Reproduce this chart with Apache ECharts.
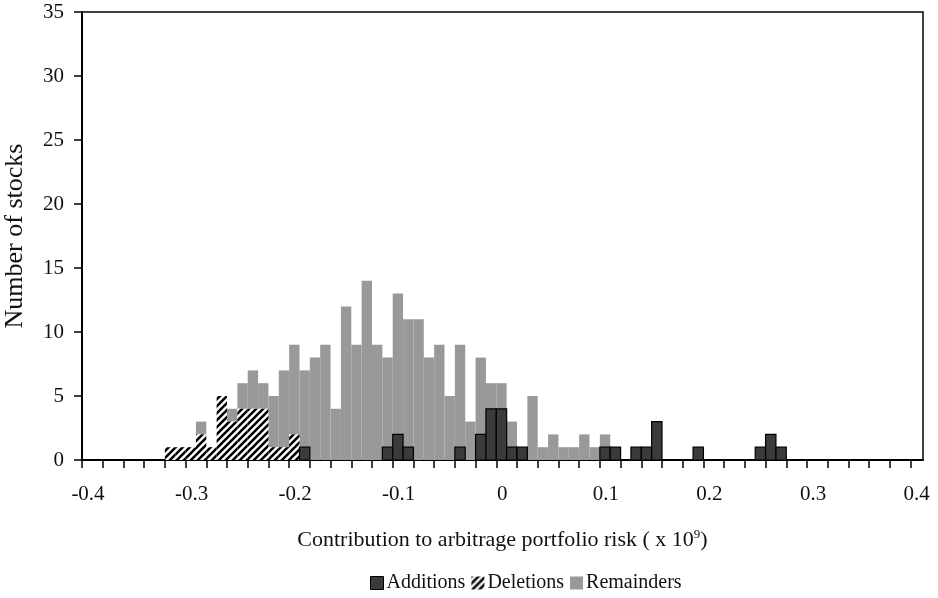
<!DOCTYPE html>
<html>
<head>
<meta charset="utf-8">
<script src="https://cdn.jsdelivr.net/npm/echarts@6/dist/echarts.min.js"></script>
<style>html,body{margin:0;padding:0;background:#fff;}#c{width:938px;height:598px;}</style>
</head>
<body>
<div id="c"></div>
<script>
// ---- data (bin left edges, bin width 0.01) ----
const binWidth = 0.01;
const deletionBins   = [-0.32,-0.31,-0.30,-0.29,-0.28,-0.27,-0.26,-0.25,-0.24,-0.23,-0.22,-0.21,-0.20];
const deletionCounts = [1,1,1,2,1,5,3,4,4,4,1,1,2];
const additionBins   = [-0.19,-0.11,-0.10,-0.09,-0.04,-0.02,-0.01,0.00,0.01,0.02,0.10,0.11,0.13,0.14,0.15,0.19,0.25,0.26,0.27];
const additionCounts = [1,1,2,1,1,2,4,4,1,1,1,1,1,1,3,1,1,2,1];
const remainderBins  = [-0.29,-0.26,-0.25,-0.24,-0.23,-0.22,-0.21,-0.20,-0.19,-0.18,-0.17,-0.16,-0.15,-0.14,-0.13,-0.12,-0.11,-0.10,-0.09,-0.08,-0.07,-0.06,-0.05,-0.04,-0.03,-0.02,-0.01,0.00,0.01,0.03,0.04,0.05,0.06,0.07,0.08,0.09,0.10];
const remainderCounts= [1,1,2,3,2,4,6,7,6,8,9,4,12,9,14,9,7,11,10,11,8,9,5,8,3,6,2,2,2,5,1,2,1,1,2,1,1];
const xTickLabels = [-0.4,-0.3,-0.2,-0.1,0,0.1,0.2,0.3,0.4];
const yTicks = [0,5,10,15,20,25,30,35];

// ---- stacking bases ----
const key = v => Math.round(v * 1000);
const base = {};
function buildSeries(bins, counts) {
  return bins.map((b, i) => {
    const k = key(b);
    const lo = base[k] || 0;
    const hi = lo + counts[i];
    base[k] = hi;
    return [b, b + binWidth, lo, hi];
  });
}
const delData = buildSeries(deletionBins, deletionCounts);
const addData = buildSeries(additionBins, additionCounts);
const remData = buildSeries(remainderBins, remainderCounts);

// tick positions every 0.02
const tickVals = [];
for (let i = 0; i <= 40; i++) tickVals.push(Math.round((-0.4 + i * 0.02) * 100) / 100);

// hatch pattern
const pc = document.createElement('canvas');
const P = 7;
pc.width = P; pc.height = P;
const g = pc.getContext('2d');
g.fillStyle = '#fff'; g.fillRect(0, 0, P, P);
g.strokeStyle = '#000'; g.lineWidth = 2.6;
g.beginPath();
g.moveTo(-1, P + 1); g.lineTo(P + 1, -1);
g.moveTo(-P / 2 - 1, P / 2 + 1); g.lineTo(P / 2 + 1, -P / 2 - 1);
g.moveTo(P / 2 - 1, P * 1.5 + 1); g.lineTo(P * 1.5 + 1, P / 2 - 1);
g.stroke();
const hatch = { image: pc, repeat: 'repeat' };

const FONT = 'Liberation Serif';
const DARK = '#3b3b3b';
const GRAY = '#999999';
const TXT = '#111';

function makeRender(fill, stroke, lw) {
  return function (params, api) {
    const p0 = api.coord([api.value(0), api.value(3)]);
    const p1 = api.coord([api.value(1), api.value(2)]);
    return {
      type: 'rect',
      shape: { x: p0[0], y: p0[1], width: p1[0] - p0[0], height: p1[1] - p0[1] },
      style: { fill: fill, stroke: stroke, lineWidth: lw }
    };
  };
}

const chart = echarts.init(document.getElementById('c'), null, { renderer: 'canvas' });
chart.setOption({
  animation: false,
  backgroundColor: '#fff',
  textStyle: { fontFamily: FONT },
  grid: { left: 82, right: 15, top: 12, bottom: 138, containLabel: false, outerBoundsMode: 'none',
    show: true, borderColor: '#000', borderWidth: 1.5 },
  legend: {
    top: 568, left: 365, itemWidth: 13, itemHeight: 13, itemGap: 6,
    textStyle: { fontFamily: FONT, fontSize: 20, color: TXT, padding: [0, 0, 0, -2] },
    data: [
      { name: 'Additions', icon: 'rect', itemStyle: { color: DARK, borderColor: '#000', borderWidth: 1 } },
      { name: 'Deletions', icon: 'rect', itemStyle: { color: hatch } },
      { name: 'Remainders', icon: 'rect', itemStyle: { color: GRAY } }
    ]
  },
  xAxis: {
    type: 'value', min: -0.4, max: 0.412,
    name: '{a|Contribution to arbitrage portfolio risk ( x 10}{s|9}{a|)}',
    nameLocation: 'middle', nameGap: 68,
    nameTextStyle: {
      rich: {
        a: { fontFamily: FONT, fontSize: 22, color: TXT },
        s: { fontFamily: FONT, fontSize: 13, color: TXT, verticalAlign: 'top', padding: [0, 0, 12, 0] }
      }
    },
    splitLine: { show: false },
    axisLine: { onZero: false, lineStyle: { color: '#000', width: 2 } },
    axisTick: { show: true, inside: false, length: 8, customValues: tickVals, lineStyle: { color: '#000', width: 1.5 } },
    axisLabel: { customValues: xTickLabels, fontFamily: FONT, fontSize: 21, color: TXT, margin: 24,
      padding: [0, 0, 0, 12],
      formatter: v => String(Math.round(v * 10) / 10) }
  },
  yAxis: {
    type: 'value', min: 0, max: 35, interval: 5,
    name: 'Number of stocks', nameLocation: 'middle', nameGap: 54,
    nameTextStyle: { fontFamily: FONT, fontSize: 26, color: TXT },
    splitLine: { show: false },
    axisLine: { show: true, onZero: false, lineStyle: { color: '#000', width: 2 } },
    axisTick: { show: true, length: 8, lineStyle: { color: '#000', width: 1.5 } },
    axisLabel: { fontFamily: FONT, fontSize: 21, color: TXT, margin: 18 }
  },
  series: [
    { name: 'Remainders', type: 'custom', renderItem: makeRender(GRAY, null, 0),
      encode: { x: [0, 1], y: [2, 3] }, itemStyle: { color: GRAY }, data: remData },
    { name: 'Deletions', type: 'custom', renderItem: makeRender(hatch, null, 0),
      encode: { x: [0, 1], y: [2, 3] }, itemStyle: { color: hatch }, data: delData },
    { name: 'Additions', type: 'custom', renderItem: makeRender(DARK, '#000', 1.2),
      encode: { x: [0, 1], y: [2, 3] }, itemStyle: { color: DARK }, data: addData }
  ]
});
</script>
</body>
</html>
